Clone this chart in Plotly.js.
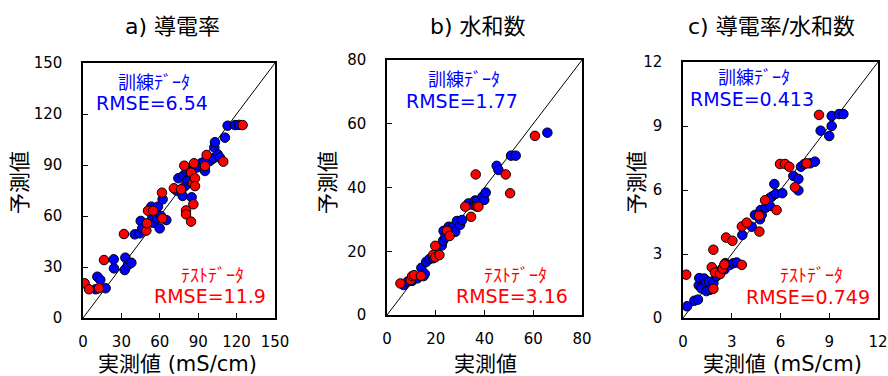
<!DOCTYPE html>
<html><head><meta charset="utf-8">
<script src="https://cdn.plot.ly/plotly-3.0.1.min.js"></script>
<style>html,body{margin:0;padding:0;background:#fff}</style>
</head><body><div id="chart" style="width:888px;height:376px"></div>
<script>
// ---- Panel a) 導電率 (mS/cm)
const trainA_x = [9.9,11.2,13.5,17.7,24.0,24.2,33.1,32.6,35.2,37.8,40.4,44.3,45.1,46.3,53.4,54.2,55.5,57.6,58.6,59.9,60.9,62.2,65.1,73.2,74.5,76.8,77.9,78.4,79.7,81.0,81.5,83.6,84.9,86.0,88.8,90.1,92.2,94.8,95.3,95.3,99.4,101.8,102.6,103.1,105.2,107.0,110.9,113.0,118.8,122.0];
const trainA_y = [16.9,24.3,22.4,17.5,34.5,29.2,35.5,28.2,31.2,32.5,49.2,49.8,57.1,52.8,65.5,59.2,56.0,58.5,65.5,52.7,60.0,69.8,57.6,74.9,82.2,74.9,71.8,83.7,77.6,86.1,81.0,81.2,71.0,88.0,88.5,90.0,91.0,92.0,89.0,86.5,92.5,93.9,100.4,103.4,96.3,94.3,106.1,113.1,113.5,113.6];
const testA_x = [1.3,4.7,12.5,16.4,32.0,49.5,50.0,50.8,54.8,61.7,62.0,71.0,76.6,79.1,80.5,80.5,84.4,84.4,85.7,86.2,86.7,87.5,87.5,95.3,96.6,109.6,124.7];
const testA_y = [20.4,16.9,17.5,34.1,49.4,51.4,55.7,63.1,63.1,73.7,58.6,76.3,75.7,89.6,63.3,61.0,56.7,85.5,79.2,66.9,91.0,82.2,77.6,89.4,95.9,92.0,113.5];

// ---- Panel b) 水和数
const trainB_x = [6.8,8.5,10.3,11.6,12.5,14.1,15.0,15.5,16.1,17.5,18.9,19.2,22.5,23.0,23.2,23.9,25.3,27.0,28.0,28.7,30.0,30.8,33.2,33.4,35.5,36.1,36.9,39.2,39.9,40.5,45.0,45.7,50.9,52.8,65.8];
const trainB_y = [9.4,10.5,10.7,12.0,11.5,14.8,12.2,12.9,16.7,17.6,17.8,18.8,21.8,23.3,26.4,24.3,27.7,27.7,26.1,29.5,28.3,29.8,34.5,35.0,34.5,35.9,35.8,37.1,36.1,38.4,46.8,45.5,50.0,50.0,57.2];
const testB_x = [5.5,9.7,10.3,11.1,13.9,19.0,19.8,21.5,19.8,24.6,25.7,32.1,34.5,36.4,36.8,37.5,48.7,50.5,60.7];
const testB_y = [9.9,11.0,12.2,12.5,12.3,18.9,18.1,18.8,21.7,26.4,24.8,34.0,30.8,44.1,34.0,34.0,44.1,38.2,56.2];

// ---- Panel c) 導電率/水和数
const trainC_x = [0.25,0.7,0.92,0.97,1.0,1.13,1.3,1.42,1.44,1.6,1.66,1.87,2.05,2.2,2.4,2.56,2.6,2.87,3.1,3.3,3.65,4.23,4.43,4.74,4.78,4.84,5.09,5.32,5.35,5.46,5.62,5.71,6.11,6.79,7.10,7.10,7.26,7.47,7.82,8.12,8.47,9.0,9.15,9.15,9.6,9.87];
const trainC_y = [0.55,0.81,0.86,1.53,1.87,1.39,1.85,1.68,1.26,1.70,1.32,1.64,1.95,2.1,2.3,2.28,2.57,2.48,2.57,2.60,3.89,4.28,4.83,4.63,5.06,4.83,5.17,5.61,5.25,5.69,6.28,5.82,5.85,6.66,6.52,5.98,7.09,7.22,7.25,7.33,8.78,8.53,9.0,9.47,9.56,9.56];
const testC_x = [0.2,1.77,1.87,1.87,1.97,2.28,2.44,2.55,2.65,3.04,3.62,3.62,3.92,4.70,4.68,5.05,5.76,5.97,6.28,6.54,6.89,7.61,8.37];
const testC_y = [2.03,2.38,3.2,1.37,2.13,2.06,2.31,2.51,3.77,3.62,2.49,4.29,4.47,4.05,4.80,5.52,5.06,7.22,7.22,7.09,6.13,7.25,9.52];

const panelTitles = ['a) 導電率', 'b) 水和数', 'c) 導電率/水和数'];
const xTitles = ['実測値 (mS/cm)', '実測値', '実測値 (mS/cm)'];
const yTitle = '予測値';
const axisMax = [150, 80, 12];
const axisStep = [30, 20, 3];
const trainRMSE = ['RMSE=6.54', 'RMSE=1.77', 'RMSE=0.413'];
const testRMSE = ['RMSE=11.9', 'RMSE=3.16', 'RMSE=0.749'];
const trainLabel = '訓練ﾃﾞｰﾀ';
const testLabel = 'ﾃｽﾄﾃﾞｰﾀ';

const W = 888, H = 376;
const FONT = '"DejaVu Sans", Verdana, "Noto Sans CJK JP", sans-serif';
// plot boxes in pixels [left, right, top, bottom]
const boxes = [[83, 275, 63, 318], [387, 582, 60, 315], [683, 878, 62, 318]];

const sets = [
  [trainA_x, trainA_y, testA_x, testA_y],
  [trainB_x, trainB_y, testB_x, testB_y],
  [trainC_x, trainC_y, testC_x, testC_y]
];

const traces = [];
const layout = {
  width: W, height: H, margin: {l: 0, r: 0, t: 0, b: 0},
  paper_bgcolor: '#fff', plot_bgcolor: '#fff', showlegend: false,
  font: {family: FONT, color: '#000', size: 15},
  annotations: []
};
function px(X, Y) { return {x: X / W, y: 1 - Y / H}; }
function ann(X, Y, text, size, color, extra) {
  const p = px(X, Y);
  layout.annotations.push(Object.assign({
    xref: 'paper', yref: 'paper', x: p.x, y: p.y, text: text, showarrow: false,
    xanchor: 'center', yanchor: 'middle', font: {family: FONT, size: size, color: color}
  }, extra || {}));
}

// label positions (pixels)
const titlePos = [[172, 27], [478, 27], [771, 27]];
const xTitlePos = [[177, 364], [486, 364], [782, 364]];
const yTitlePos = [[20, 183], [328, 183], [637, 183]];
const trLabPos = [[154, 82], [464, 80], [754, 78]];
const trRmsePos = [[152, 103], [462, 101], [752, 99]];
const teLabPos = [[212, 275], [515, 275], [811, 275]];
const teRmsePos = [[210, 296], [512, 296], [808, 297]];

for (let i = 0; i < 3; i++) {
  const n = i === 0 ? '' : String(i + 1);
  const xa = 'x' + n, ya = 'y' + n;
  const [tx, ty, sx, sy] = sets[i];
  traces.push({x: [0, axisMax[i]], y: [0, axisMax[i]], xaxis: xa, yaxis: ya, mode: 'lines',
    line: {color: '#000', width: 1}, hoverinfo: 'skip'});
  traces.push({x: tx, y: ty, xaxis: xa, yaxis: ya, mode: 'markers', type: 'scatter',
    marker: {color: '#0000FF', size: 9.5, line: {color: '#000', width: 1}}});
  traces.push({x: sx, y: sy, xaxis: xa, yaxis: ya, mode: 'markers', type: 'scatter',
    marker: {color: '#FF0000', size: 9.5, line: {color: '#000', width: 1}}});
  const b = boxes[i];
  const common = {range: [0, axisMax[i]], dtick: axisStep[i], tick0: 0, ticks: 'inside', ticklen: 5,
    tickcolor: '#000', tickwidth: 1, showline: true, linecolor: '#000', linewidth: 1.6, mirror: true,
    showgrid: false, zeroline: false, tickfont: {family: FONT, size: 15, color: '#000'}, fixedrange: true};
  layout['xaxis' + n] = Object.assign({}, common, {domain: [b[0] / W, b[1] / W], anchor: ya, ticklabelstandoff: 9});
  layout['yaxis' + n] = Object.assign({}, common, {domain: [1 - b[3] / H, 1 - b[2] / H], anchor: xa, ticklabelstandoff: 16});

  ann(titlePos[i][0], titlePos[i][1], panelTitles[i], 22, '#000');
  ann(xTitlePos[i][0], xTitlePos[i][1], xTitles[i], 21, '#000');
  ann(yTitlePos[i][0], yTitlePos[i][1], yTitle, 21, '#000', {textangle: -90});
  ann(trLabPos[i][0], trLabPos[i][1], trainLabel, 18, '#0000FF');
  ann(trRmsePos[i][0], trRmsePos[i][1], trainRMSE[i], 19, '#0000FF');
  ann(teLabPos[i][0], teLabPos[i][1], testLabel, 18, '#FF0000');
  ann(teRmsePos[i][0], teRmsePos[i][1], testRMSE[i], 19, '#FF0000');
}

Plotly.newPlot('chart', traces, layout, {staticPlot: true, displayModeBar: false});
</script></body></html>
